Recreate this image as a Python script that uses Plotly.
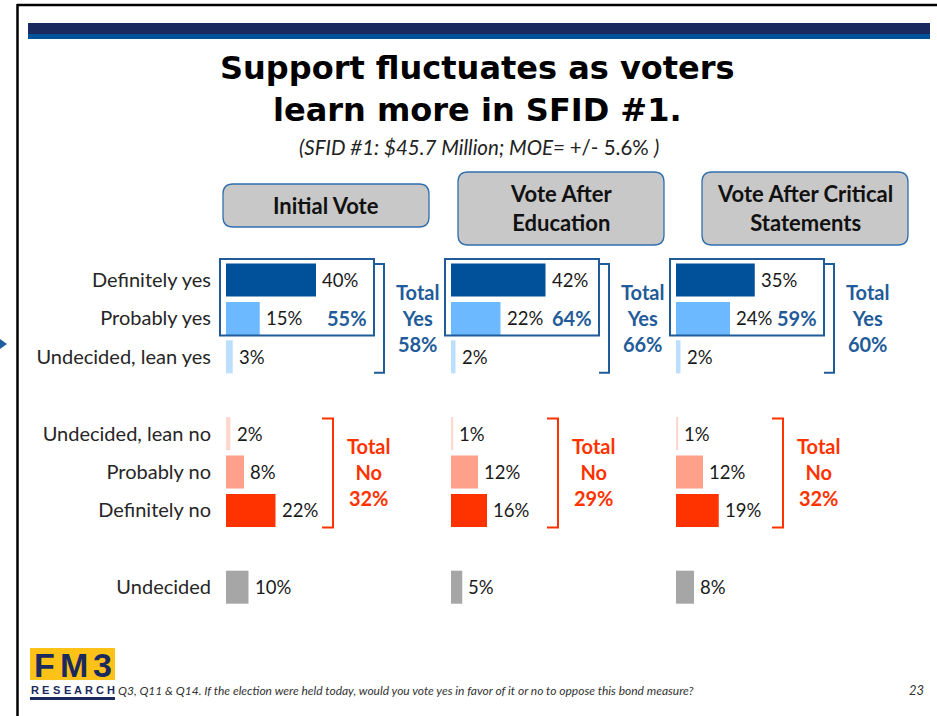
import plotly.graph_objects as go

W, H = 937, 716

# ---- survey data -------------------------------------------------------
categories = ["Definitely yes", "Probably yes", "Undecided, lean yes",
              "Undecided, lean no", "Probably no", "Definitely no", "Undecided"]
row_pos = [0, 1, 2, 4, 5, 6, 8]
column_titles = ["Initial Vote", "Vote After<br>Education",
                 "Vote After Critical<br>Statements"]
initial_vote = [40, 15, 3, 2, 8, 22, 10]
after_education = [42, 22, 2, 1, 12, 16, 5]
after_critical = [35, 24, 2, 1, 12, 19, 8]
yes_subtotal = [55, 64, 59]
total_yes = [58, 66, 60]
total_no = [32, 29, 32]

bar_colors = ["#00509A", "#6DB9FF", "#BDDFFF", "#FDD8CF", "#FFA08A",
              "#FF3300", "#A6A6A6"]
YES_BLUE = "#1F5C99"
NO_RED = "#FF3300"
NAVY = "#1B2A5E"
BODY_FONT = "Lato"

# ---- layout geometry (pixels) -----------------------------------------
COL_X0 = [226, 451, 676]
COL_W = 225
ROW0_Y, ROW_STEP = 280, 38.4


def px(x):
    return x / W


def py(y):
    return 1 - y / H


def row_px(r):
    return ROW0_Y + ROW_STEP * r


def rrect(x0, y0, x1, y1, r):
    """Rounded rectangle path in paper coordinates from pixel corners."""
    pts = [
        ("M", [(x0 + r, y0)]),
        ("L", [(x1 - r, y0)]),
        ("Q", [(x1, y0), (x1, y0 + r)]),
        ("L", [(x1, y1 - r)]),
        ("Q", [(x1, y1), (x1 - r, y1)]),
        ("L", [(x0 + r, y1)]),
        ("Q", [(x0, y1), (x0, y1 - r)]),
        ("L", [(x0, y0 + r)]),
        ("Q", [(x0, y0), (x0 + r, y0)]),
    ]
    out = ""
    for cmd, ps in pts:
        out += cmd + " " + " ".join(f"{px(a):.5f},{py(b):.5f}" for a, b in ps) + " "
    return out + "Z"


def poly(points):
    return "M " + " L ".join(f"{px(a):.5f},{py(b):.5f}" for a, b in points)


fig = go.Figure()

series = [initial_vote, after_education, after_critical]
axis_ids = ["x", "x2", "x3"]
for vals, ax in zip(series, axis_ids):
    fig.add_trace(go.Bar(
        orientation="h", x=vals, y=row_pos, xaxis=ax, yaxis="y",
        marker=dict(color=bar_colors, line=dict(width=0)), width=0.86,
        hoverinfo="skip", showlegend=False,
    ))

annotations = []
shapes = []

# value labels next to each bar
for vals, ax in zip(series, axis_ids):
    for r, v in zip(row_pos, vals):
        annotations.append(dict(
            x=v, xref=ax, y=r, yref="y", text=f"{v}%", showarrow=False,
            xanchor="left", yanchor="middle", xshift=4,
            font=dict(family=BODY_FONT, size=18.5, color="#1A1A1A"),
        ))

for k, x0 in enumerate(COL_X0):
    # column header box
    if k == 0:
        bx0, by0, bx1, by1 = 223, 184, 429, 227
    else:
        bx0 = x0 + 7 if k == 1 else x0 + 26
        bx0, by0, bx1, by1 = bx0, 172, bx0 + 206, 245
    shapes.append(dict(type="path", path=rrect(bx0, by0, bx1, by1, 10),
                       xref="paper", yref="paper", fillcolor="#C8C8C8",
                       line=dict(color="#2F6EAF", width=1.3), layer="below"))
    annotations.append(dict(
        x=px((bx0 + bx1) / 2), y=py((by0 + by1) / 2), xref="paper", yref="paper",
        text=f"<b>{column_titles[k]}</b>", showarrow=False,
        xanchor="center", yanchor="middle",
        font=dict(family=BODY_FONT, size=22, color="#111111"),
    ))

    # box around definite + probable yes
    shapes.append(dict(type="rect", xref="paper", yref="paper",
                       x0=px(x0 - 6), x1=px(x0 + 148),
                       y0=py(row_px(0) - 21), y1=py(row_px(1) + 17),
                       line=dict(color=YES_BLUE, width=2), fillcolor="rgba(0,0,0,0)"))
    annotations.append(dict(
        x=px(x0 + 143), y=1, xref="paper", yref="y",
        text=f"<b>{yes_subtotal[k]}%</b>", showarrow=False,
        xanchor="right", yanchor="middle",
        font=dict(family=BODY_FONT, size=20, color=YES_BLUE),
    ))

    # total yes bracket
    bx = x0 + 158
    shapes.append(dict(type="path", xref="paper", yref="paper",
                       path=poly([(bx - 10, row_px(0) - 16), (bx, row_px(0) - 16),
                                  (bx, row_px(2) + 16), (bx - 10, row_px(2) + 16)]),
                       line=dict(color=YES_BLUE, width=2)))
    annotations.append(dict(
        x=px(x0 + 191), y=1, xref="paper", yref="y",
        text=f"<b>Total<br>Yes<br>{total_yes[k]}%</b>", showarrow=False,
        xanchor="center", yanchor="middle",
        font=dict(family=BODY_FONT, size=20, color=YES_BLUE),
    ))

    # total no bracket
    nx = x0 + 107
    shapes.append(dict(type="path", xref="paper", yref="paper",
                       path=poly([(nx - 11, row_px(4) - 15), (nx, row_px(4) - 15),
                                  (nx, row_px(6) + 17), (nx - 11, row_px(6) + 17)]),
                       line=dict(color=NO_RED, width=2)))
    annotations.append(dict(
        x=px(x0 + 142), y=5, xref="paper", yref="y",
        text=f"<b>Total<br>No<br>{total_no[k]}%</b>", showarrow=False,
        xanchor="center", yanchor="middle",
        font=dict(family=BODY_FONT, size=20, color=NO_RED),
    ))

# slide frame and header bars
shapes += [
    dict(type="line", xref="paper", yref="paper", x0=px(17), x1=px(937),
         y0=py(5), y1=py(5), line=dict(color="#000000", width=2.5)),
    dict(type="line", xref="paper", yref="paper", x0=px(17.5), x1=px(17.5),
         y0=py(4), y1=py(716), line=dict(color="#000000", width=2.5)),
    dict(type="rect", xref="paper", yref="paper", x0=px(28), x1=px(930),
         y0=py(23), y1=py(34), fillcolor=NAVY, line=dict(width=0)),
    dict(type="rect", xref="paper", yref="paper", x0=px(28), x1=px(930),
         y0=py(34), y1=py(39), fillcolor="#00529B", line=dict(width=0)),
    dict(type="path", xref="paper", yref="paper",
         path=poly([(0, 339), (7, 344), (0, 349)]) + " Z",
         fillcolor="#1F5FA0", line=dict(width=0)),
    # logo block
    dict(type="rect", xref="paper", yref="paper", x0=px(30), x1=px(115),
         y0=py(648), y1=py(680), fillcolor="#FDC218", line=dict(width=0)),
    dict(type="rect", xref="paper", yref="paper", x0=px(30), x1=px(115),
         y0=py(697), y1=py(700), fillcolor=NAVY, line=dict(width=0)),
]

# title and subtitle
annotations.append(dict(
    x=px(478), y=py(89), xref="paper", yref="paper",
    text="<b>Support fluctuates as voters<br>learn more in SFID #1.</b>",
    showarrow=False, xanchor="center", yanchor="middle",
    font=dict(family="DejaVu Sans", size=32, color="#000000"),
))
annotations.append(dict(
    x=px(479), y=py(147), xref="paper", yref="paper",
    text="<i>(SFID #1: $45.7 Million; MOE= </i>+/- 5.6% <i>)</i>",
    showarrow=False, xanchor="center", yanchor="middle",
    font=dict(family=BODY_FONT, size=20.5, color="#222222"),
))

# logo lettering
for ch, cx in zip("FM3", [44, 74, 102.5]):
    annotations.append(dict(
        x=px(cx), y=py(665), xref="paper", yref="paper", text=f"<b>{ch}</b>",
        showarrow=False, xanchor="center", yanchor="middle",
        font=dict(family="Liberation Sans", size=34, color=NAVY),
    ))
for i, ch in enumerate("RESEARCH"):
    annotations.append(dict(
        x=px(34.5 + i * 10.9), y=py(689.5), xref="paper", yref="paper",
        text=f"<b>{ch}</b>", showarrow=False, xanchor="center", yanchor="middle",
        font=dict(family="Liberation Sans", size=11, color=NAVY),
    ))

# footnote and page number
annotations.append(dict(
    x=px(116), y=py(690), xref="paper", yref="paper",
    text="<i>Q3, Q11 &amp; Q14. If the election were held today, would you vote yes "
         "in favor of it or no to oppose this bond measure?</i>",
    showarrow=False, xanchor="left", yanchor="middle",
    font=dict(family=BODY_FONT, size=12, color="#333333"),
))
annotations.append(dict(
    x=px(916), y=py(690), xref="paper", yref="paper", text="<i>23</i>",
    showarrow=False, xanchor="center", yanchor="middle",
    font=dict(family=BODY_FONT, size=13, color="#333333"),
))

axis_common = dict(range=[0, 100], visible=False, showgrid=False,
                   zeroline=False, anchor="y", fixedrange=True)
fig.update_layout(
    width=W, height=H,
    margin=dict(l=0, r=0, t=0, b=0, pad=0),
    paper_bgcolor="#FFFFFF", plot_bgcolor="rgba(0,0,0,0)",
    barmode="overlay",
    xaxis=dict(domain=[px(COL_X0[0]), px(COL_X0[0] + COL_W)], **axis_common),
    xaxis2=dict(domain=[px(COL_X0[1]), px(COL_X0[1] + COL_W)], **axis_common),
    xaxis3=dict(domain=[px(COL_X0[2]), px(COL_X0[2] + COL_W)], **axis_common),
    yaxis=dict(
        domain=[0, 1], anchor="x",
        range=[(H - ROW0_Y) / ROW_STEP, -ROW0_Y / ROW_STEP],
        tickvals=row_pos, ticktext=categories, ticks="",
        showgrid=False, zeroline=False, showline=False,
        ticklabelstandoff=14, fixedrange=True,
        tickfont=dict(family=BODY_FONT, size=20, color="#262626"),
    ),
    shapes=shapes, annotations=annotations,
)

fig.write_html("out.html")
